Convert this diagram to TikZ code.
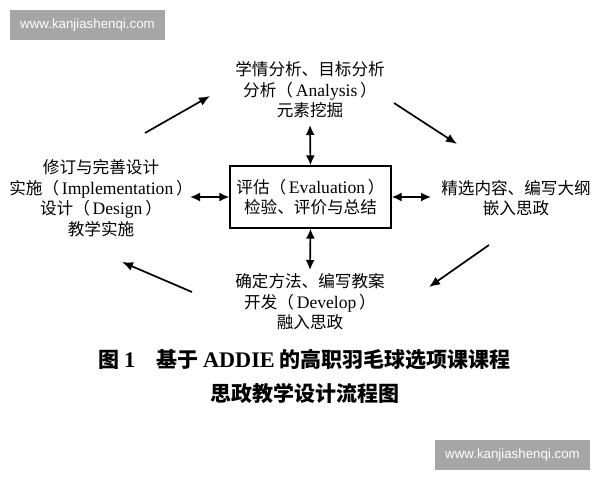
\documentclass[tikz,border=0pt]{standalone}
\usepackage{fontspec}
\setmainfont{Noto Sans CJK SC}
\newfontfamily\lat[Scale=1.06]{Liberation Serif}
\newfontfamily\wm{Liberation Sans}
\usetikzlibrary{arrows.meta}
\begin{document}
\begin{tikzpicture}[x=1pt,y=-1pt,
  lbl/.style={align=center,font=\fontsize{16.6}{20.5}\selectfont,inner sep=0pt},
  arr/.style={line width=1.7pt,-{Latex[length=11pt,width=9pt]}},
  dbl/.style={line width=1.7pt,{Latex[length=10pt,width=9pt]}-{Latex[length=10pt,width=9pt]}},
  wmark/.style={fill=black!35,text=white,font=\wm\fontsize{13.3}{15}\selectfont,minimum width=155pt,minimum height=30pt,inner sep=0pt},
  captext/.style={font=\bfseries\fontsize{21}{26}\selectfont,inner sep=0pt}]
\useasboundingbox (0,0) rectangle (600,480);
\fill[white] (0,0) rectangle (600,480);
% watermarks
\node[wmark] (w1) at (87.5,25) {www.kanjiashenqi.com};
\node[wmark] (w2) at (512.5,455) {www.kanjiashenqi.com};
% central box
\node[draw,line width=1.3pt,minimum width=161pt,minimum height=62pt,lbl] (E) at (310.5,197)
  {评估（\,{\lat Evaluation}\,）\\检验、评价与总结};
% surrounding labels
\node[lbl] (A) at (310,90) {学情分析、目标分析\\分析（\,{\lat Analysis}\,）\\元素挖掘};
\node[lbl] (R) at (516,198) {精选内容、编写大纲\\嵌入思政};
\node[lbl] (B) at (310,302) {确定方法、编写教案\\开发（\,{\lat Develop}\,）\\融入思政};
\node[lbl] (L) at (101,198) {修订与完善设计\\实施（\,{\lat Implementation}\,）\\设计（\,{\lat Design}\,）\\教学实施};
% double-arrow ends
\coordinate (ta) at (310,125);
\coordinate (ba) at (310,270);
\coordinate (la) at (190,197);
\coordinate (ra) at (431,197);
\draw[dbl] (E.north) -- (ta);
\draw[dbl] (E.south) -- (ba);
\draw[dbl] (E.west) -- (la);
\draw[dbl] (E.east) -- (ra);
% cycle arrows
\coordinate (c1s) at (145,133); \coordinate (c1e) at (210,96);
\coordinate (c2s) at (394,103); \coordinate (c2e) at (457,144);
\coordinate (c3s) at (489,245); \coordinate (c3e) at (429,287);
\coordinate (c4s) at (192,292); \coordinate (c4e) at (122,262);
\draw[arr] (c1s) -- (c1e);
\draw[arr] (c2s) -- (c2e);
\draw[arr] (c3s) -- (c3e);
\draw[arr] (c4s) -- (c4e);
% caption
\node[captext] (cap1) at (304.5,360) {图 {\lat 1}\hspace{1em}基于 {\lat ADDIE} 的高职羽毛球选项课课程};
\node[captext] (cap2) at (304.5,393) {思政教学设计流程图};
\end{tikzpicture}
\end{document}
